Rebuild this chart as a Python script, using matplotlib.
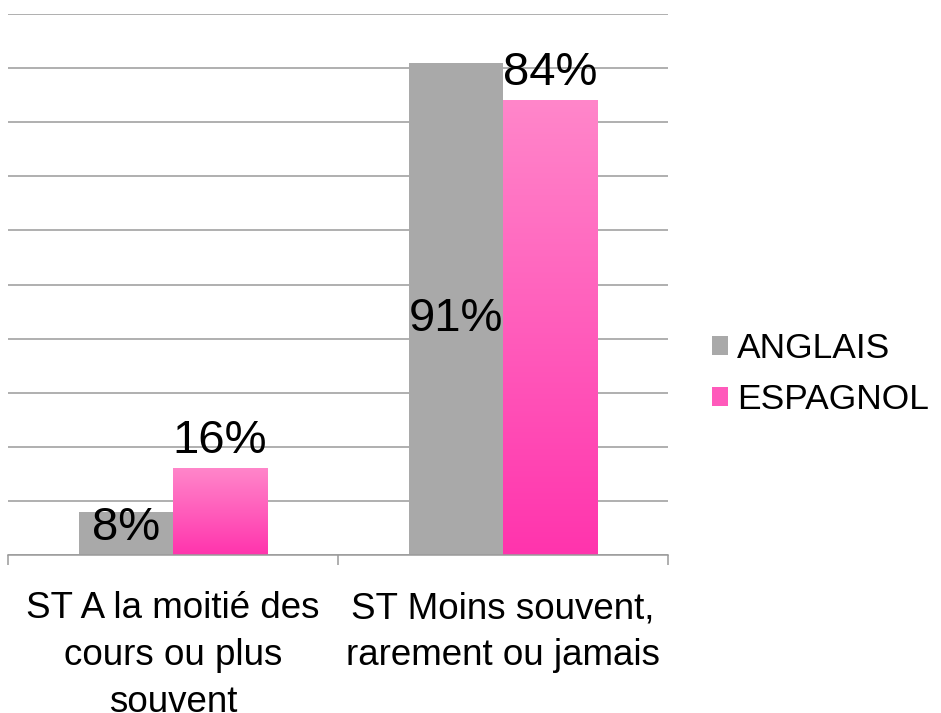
import numpy as np
import matplotlib
matplotlib.use("Agg")
import matplotlib.pyplot as plt
from matplotlib.patches import Patch

plt.rcParams['font.family'] = ['Liberation Sans', 'DejaVu Sans']

# data
categories = ["ST A la moitié des\ncours ou plus\nsouvent", "ST Moins souvent,\nrarement ou jamais"]
series_names = ["ANGLAIS", "ESPAGNOL"]
anglais = [8, 91]
espagnol = [16, 84]

gray = "#A9A9A9"
pink_top = np.array([255, 134, 202]) / 255
pink_bottom = np.array([255, 52, 173]) / 255
grid_col = "#9A9A9A"

fig = plt.figure(figsize=(9.41, 7.13), dpi=100)
ax = fig.add_axes([8 / 941, 1 - 555 / 713, 660 / 941, 541 / 713])

x = np.arange(len(categories))
w = 0.285

# gridlines
ax.set_yticks(np.arange(0, 101, 10))
ax.yaxis.grid(True, color=grid_col, linewidth=1.1)
ax.set_axisbelow(True)
ax.tick_params(axis='y', left=False, labelleft=False)

b1 = ax.bar(x - w / 2, anglais, w, color=gray, zorder=2)
b2 = ax.bar(x + w / 2, espagnol, w, color='none', zorder=2)

# vertical gradient in each pink bar
grad = np.linspace(0, 1, 256)[:, None, None]
img = pink_bottom * (1 - grad) + pink_top * grad
for rect in b2:
    x0 = rect.get_x()
    ax.imshow(img, extent=(x0, x0 + rect.get_width(), 0, rect.get_height()),
              origin='lower', aspect='auto', zorder=2)
ax.set_xlim(-0.5, 1.5)
ax.set_ylim(0, 100)

# value labels
for rect, v in zip(b1, anglais):
    ax.text(rect.get_x() + rect.get_width() / 2, v / 2 + (1.0 if v < 20 else -1.8), f"{v}%",
            ha='center', va='center', fontsize=34, zorder=3)
for rect, v in zip(b2, espagnol):
    ax.text(rect.get_x() + rect.get_width() / 2, v + 1.0, f"{v}%",
            ha='center', va='bottom', fontsize=34, zorder=3)

for s in ['left', 'right', 'top']:
    ax.spines[s].set_visible(False)
ax.spines['bottom'].set_color(grid_col)
ax.spines['bottom'].set_linewidth(1.1)

ax.set_xticks(x)
ax.set_xticklabels(categories, fontsize=26.5, linespacing=1.45)
ax.tick_params(axis='x', which='major', length=0, pad=26)
ax.set_xticks([-0.5, 0.5, 1.5], minor=True)
ax.tick_params(axis='x', which='minor', length=7.5, width=1.1, color=grid_col, direction='out')

handles = [Patch(facecolor=gray), Patch(facecolor="#FF5ABB")]
fig.legend(handles, series_names, loc='center left', bbox_to_anchor=(712 / 941, 1 - 374 / 713),
           frameon=False, fontsize=25.5, handlelength=0.45, handleheight=0.45,
           handletextpad=0.25, labelspacing=0.5, borderpad=0, borderaxespad=0)

fig.savefig("out.png", dpi=100)
